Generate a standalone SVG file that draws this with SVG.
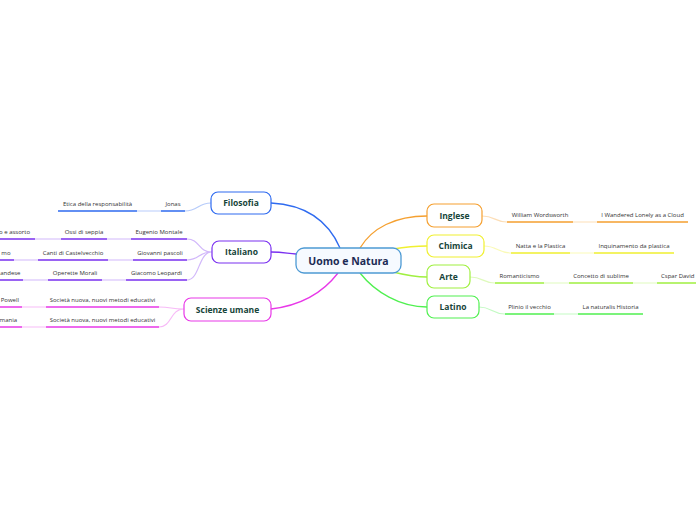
<svg xmlns="http://www.w3.org/2000/svg" width="696" height="520" viewBox="0 0 696 520">
<style>
.nt{font-family:"Open Sans","Noto Sans",sans-serif;font-weight:bold;font-size:8.5px;fill:#17453a;text-anchor:middle}
.st{font-family:"Open Sans","Noto Sans",sans-serif;font-size:6px;fill:#333;text-anchor:middle}
.se{text-anchor:end}
.ss{text-anchor:start}
.c{fill:none;stroke-width:1.3}
.u{fill:none;stroke-width:1.6}
.l{fill:none;stroke-width:1.2;opacity:.35}
.n{fill:#fff;stroke-width:1.2}
</style>
<rect width="696" height="520" fill="#fff"/>
<g id="connectors">
<path class="c" stroke="#2f6bf0" d="M271,203 C310,205 330,225 340,248"/>
<path class="c" stroke="#7a30f0" d="M271,252 C285,252 288,254 296,254"/>
<path class="c" stroke="#e838e8" d="M271,309 C305,305 325,290 338,273"/>
<path class="c" stroke="#f5a030" d="M360,248 C372,228 395,216 427,216"/>
<path class="c" stroke="#f0f030" d="M393,249 C405,247 415,246 427,246"/>
<path class="c" stroke="#a0f040" d="M393,272 C405,275 415,277 427,277"/>
<path class="c" stroke="#50f050" d="M360,273 C375,292 400,307 427,307"/>
<path class="l" stroke="#2f6bf0" d="M211,203 C198,203 198,211 185,211 M161,211 L137,211"/>
<path class="u" stroke="#2f6bf0" d="M161,211 L185,211 M58,211 L137,211"/>
<path class="l" stroke="#7a30f0" d="M212,252 C198,252 200,239 187,239 M212,252 C198,252 200,260 187,260 M212,252 C198,252 200,280 187,280 M131,239 L107,239 M61,239 L35,239 M133,260 L108,260 M38,260 L14,260 M126,280 L102,280 M48,280 L23,280"/>
<path class="u" stroke="#7a30f0" d="M131,239 L187,239 M61,239 L107,239 M0,239 L35,239 M133,260 L187,260 M38,260 L108,260 M0,260 L14,260 M126,280 L187,280 M48,280 L102,280 M0,280 L23,280"/>
<path class="l" stroke="#e838e8" d="M184,309 C170,309 172,307 159,307 M184,309 C170,309 172,327 159,327 M46,307 L22,307 M46,327 L22,327"/>
<path class="u" stroke="#e838e8" d="M46,307 L159,307 M0,307 L22,307 M46,327 L159,327 M0,327 L22,327"/>
<path class="l" stroke="#f5a030" d="M482,216 C495,216 495,222 507,222 M573,222 L597,222"/>
<path class="u" stroke="#f5a030" d="M507,222 L573,222 M597,222 L688,222"/>
<path class="l" stroke="#f0f030" d="M484,246 C497,246 498,253 511,253 M570,253 L594,253"/>
<path class="u" stroke="#f0f030" d="M511,253 L570,253 M594,253 L674,253"/>
<path class="l" stroke="#a0f040" d="M470,277 C483,277 483,283 495,283 M544,283 L569,283 M633,283 L657,283"/>
<path class="u" stroke="#a0f040" d="M495,283 L544,283 M569,283 L633,283 M657,283 L696,283"/>
<path class="l" stroke="#50f050" d="M479,307 C492,307 492,314 505,314 M554,314 L578,314"/>
<path class="u" stroke="#50f050" d="M505,314 L554,314 M578,314 L643,314"/>
</g>
<g id="center">
<rect x="296" y="248" width="105" height="25" rx="8" fill="#f6faff" stroke="#4d9ad4" stroke-width="1.3"/>
<text x="348.5" y="264.5" class="nt" style="font-size:10.5px;fill:#1c2b55">Uomo e Natura</text>
</g>
<g id="filosofia">
<rect class="n" x="211" y="192" width="60" height="22" rx="7" stroke="#2f6bf0"/>
<text class="nt" x="241" y="206">Filosofia</text>
<text class="st" x="173" y="206">Jonas</text>
<text class="st" x="97.5" y="206">Etica della responsabilità</text>
</g>
<g id="italiano">
<rect class="n" x="212" y="241" width="59" height="22" rx="7" stroke="#7a30f0"/>
<text class="nt" x="241.5" y="255">Italiano</text>
<text class="st" x="159" y="234">Eugenio Montale</text>
<text class="st" x="84" y="234">Ossi di seppia</text>
<text class="st se" x="30" y="234">o e assorto</text>
<text class="st" x="160" y="255">Giovanni pascoli</text>
<text class="st" x="73" y="255">Canti di Castelvecchio</text>
<text class="st se" x="10.5" y="255">mo</text>
<text class="st" x="156.5" y="275">Giacomo Leopardi</text>
<text class="st" x="75" y="275">Operette Morali</text>
<text class="st se" x="20.5" y="275">andese</text>
</g>
<g id="scienze">
<rect class="n" x="184" y="298" width="87" height="23" rx="7" stroke="#e838e8"/>
<text class="nt" x="227.5" y="312.5">Scienze umane</text>
<text class="st" x="102.5" y="302">Società nuova, nuovi metodi educativi</text>
<text class="st se" x="19" y="302">Powell</text>
<text class="st" x="102.5" y="322">Società nuova, nuovi metodi educativi</text>
<text class="st se" x="17" y="322">mania</text>
</g>
<g id="inglese">
<rect class="n" x="427" y="204" width="55" height="23" rx="7" stroke="#f5a030"/>
<text class="nt" x="454.5" y="218.5">Inglese</text>
<text class="st" x="540" y="217">William Wordsworth</text>
<text class="st" x="642.5" y="217">I Wandered Lonely as a Cloud</text>
</g>
<g id="chimica">
<rect class="n" x="427" y="235" width="57" height="22" rx="7" stroke="#f0f030"/>
<text class="nt" x="455.5" y="249">Chimica</text>
<text class="st" x="540.5" y="248">Natta e la Plastica</text>
<text class="st" x="634" y="248">Inquinamento da plastica</text>
</g>
<g id="arte">
<rect class="n" x="427" y="265" width="43" height="23" rx="7" stroke="#a0f040"/>
<text class="nt" x="448.5" y="279.5">Arte</text>
<text class="st" x="519.5" y="278">Romanticismo</text>
<text class="st" x="601" y="278">Concetto di sublime</text>
<text class="st ss" x="661" y="278">Cspar David</text>
</g>
<g id="latino">
<rect class="n" x="427" y="296" width="52" height="22" rx="7" stroke="#50f050"/>
<text class="nt" x="453" y="310">Latino</text>
<text class="st" x="529.5" y="309">Plinio il vecchio</text>
<text class="st" x="610.5" y="309">La naturalis Historia</text>
</g>
</svg>
